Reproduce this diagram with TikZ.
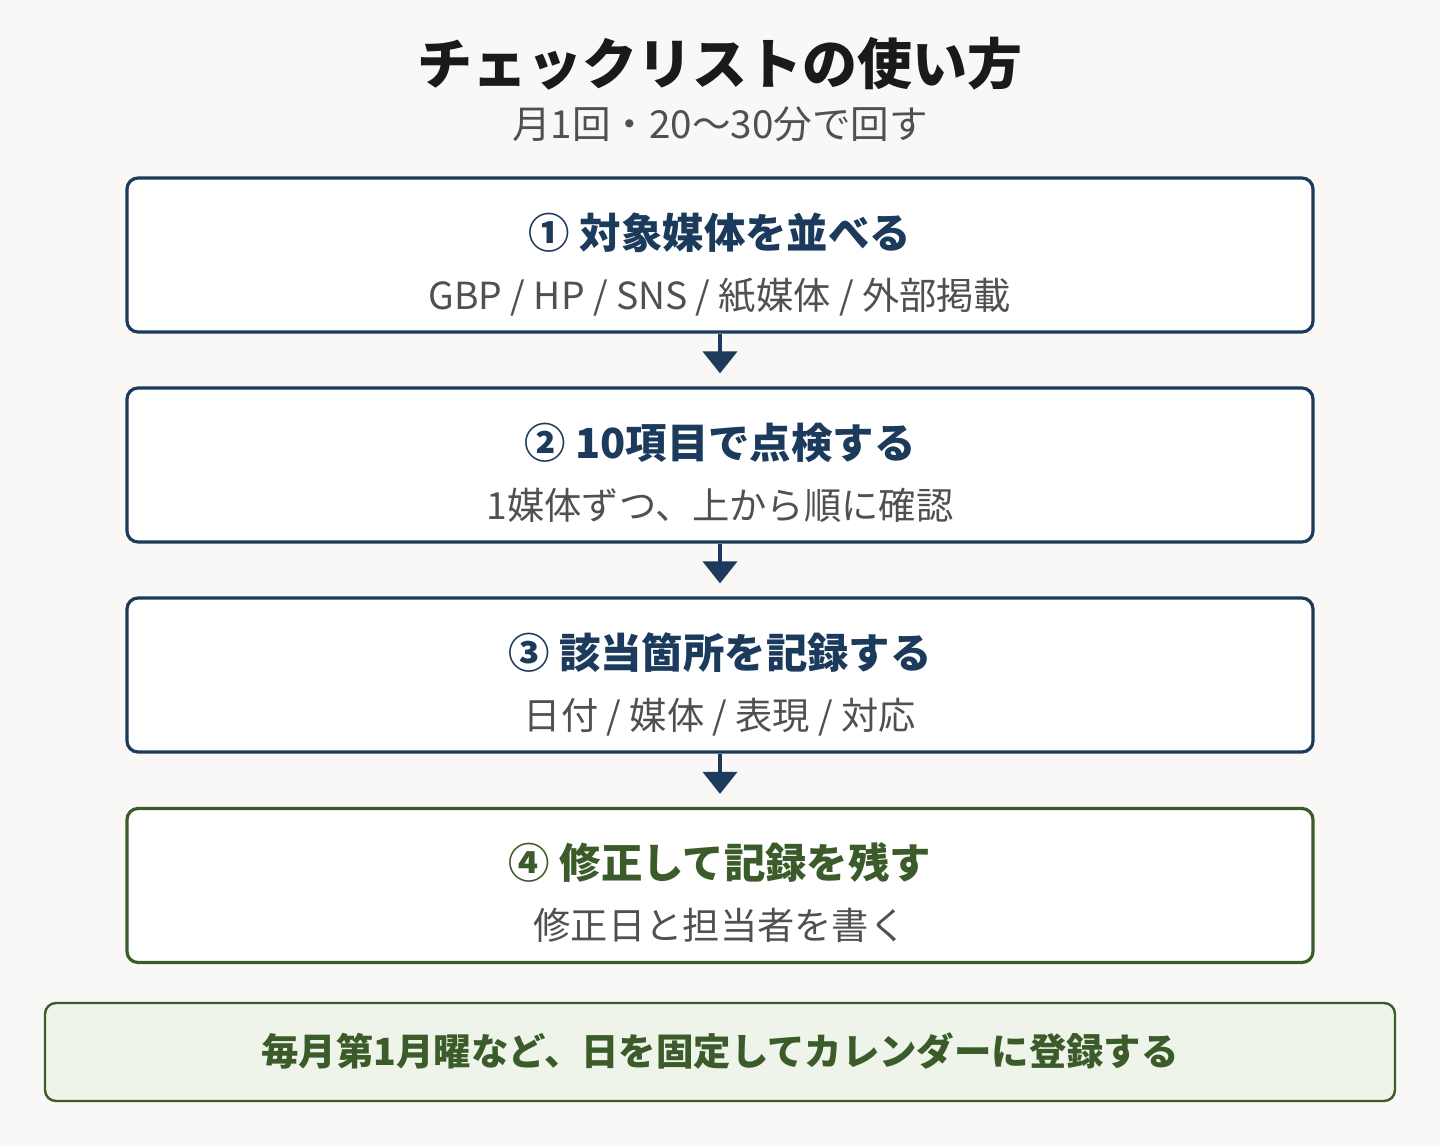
\documentclass[tikz,border=0pt]{standalone}
\usepackage{fontspec}
\setmainfont{Noto Sans CJK JP}
\usetikzlibrary{arrows.meta}
\definecolor{bgc}{HTML}{F9F8F6}
\definecolor{navy}{HTML}{1B3A5C}
\definecolor{grn}{HTML}{3B5B2A}
\definecolor{grnfill}{HTML}{EEF4EA}
\definecolor{txtgray}{HTML}{505050}
\definecolor{ttl}{HTML}{1A1A1A}
\tikzset{
  stepbox/.style={draw=navy, line width=3.2pt, fill=white, rounded corners=11pt,
    minimum width=1186pt, minimum height=154pt, inner sep=0pt},
  greenbox/.style={stepbox, draw=grn},
  notebox/.style={draw=grn, line width=2.4pt, fill=grnfill, rounded corners=11pt,
    minimum width=1350pt, minimum height=98pt, inner sep=0pt},
  steptitle/.style={anchor=base, inner sep=0pt, text=navy, font=\fontsize{41.4}{48}\selectfont\bfseries},
  stepsub/.style={anchor=base, inner sep=0pt, text=txtgray, font=\fontsize{37.3}{44}\selectfont},
  arr/.style={draw=navy, line width=4pt, -{Triangle[width=34pt,length=22pt]}, shorten >=13pt},
}
\begin{document}
\begin{tikzpicture}[x=1pt,y=-1pt]
\fill[bgc] (0,0) rectangle (1440,1146);
\useasboundingbox (0,0) rectangle (1440,1146);

\node[anchor=base, inner sep=0pt, text=ttl, font=\fontsize{55}{64}\selectfont\bfseries] (title) at (720,84) {チェックリストの使い方};
\node[anchor=base, inner sep=0pt, text=txtgray, font=\fontsize{38.6}{44}\selectfont] (subtitle) at (720,138) {月1回・20〜30分で回す};

\node[stepbox] (b1) at (720,255) {};
\node[stepbox] (b2) at (720,465) {};
\node[stepbox] (b3) at (720,675) {};
\node[greenbox] (b4) at (720,885.5) {};
\node[notebox] (note) at (720,1052) {};

\node[steptitle] (t1) at (720,248) {① 対象媒体を並べる};
\node[stepsub] (s1) at (720,309) {GBP / HP / SNS / 紙媒体 / 外部掲載};
\node[steptitle] (t2) at (720,458) {② 10項目で点検する};
\node[stepsub] (s2) at (720,519) {1媒体ずつ、上から順に確認};
\node[steptitle] (t3) at (720,668) {③ 該当箇所を記録する};
\node[stepsub] (s3) at (720,729) {日付 / 媒体 / 表現 / 対応};
\node[steptitle, text=grn] (t4) at (720,878) {④ 修正して記録を残す};
\node[stepsub] (s4) at (720,939) {修正日と担当者を書く};
\node[anchor=base, inner sep=0pt, text=grn, font=\fontsize{37.4}{44}\selectfont\bfseries] (notetext) at (720,1065) {毎月第1月曜など、日を固定してカレンダーに登録する};

\draw[arr] (b1.south) -- (b2.north);
\draw[arr] (b2.south) -- (b3.north);
\draw[arr] (b3.south) -- (b4.north);
\end{tikzpicture}
\end{document}
